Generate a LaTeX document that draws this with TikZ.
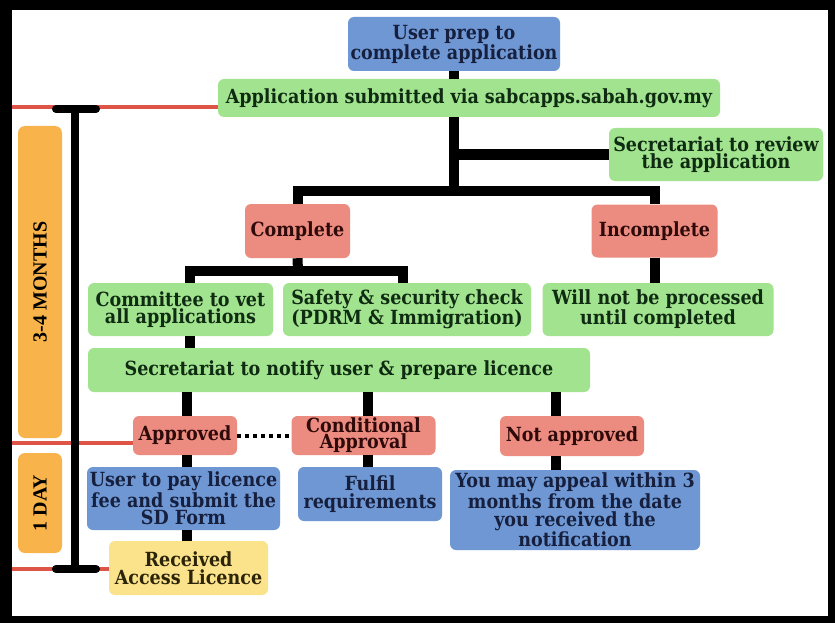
\documentclass[tikz,border=0pt]{standalone}
\usepackage{fontspec}
\setmainfont{DejaVu Serif}[FakeStretch=0.9]
\newfontfamily\sidefont{Liberation Serif}
\definecolor{bluebox}{HTML}{6F97D3}
\definecolor{greenbox}{HTML}{A2E38F}
\definecolor{redbox}{HTML}{EC8B7F}
\definecolor{yellowbox}{HTML}{FBE38C}
\definecolor{orangebar}{HTML}{F8B44A}
\definecolor{brush}{HTML}{DE5548}
\definecolor{bluetext}{HTML}{16203E}
\definecolor{greentext}{HTML}{0F2B12}
\definecolor{redtext}{HTML}{2E0A0A}
\definecolor{yellowtext}{HTML}{2B2408}
\tikzset{
  box/.style={rounded corners=6pt, inner sep=0pt, align=center,
    font=\fontsize{19.5}{17.5}\selectfont\bfseries},
  bluenode/.style={box, fill=bluebox, text=bluetext},
  greennode/.style={box, fill=greenbox, text=greentext},
  rednode/.style={box, fill=redbox, text=redtext},
  yellownode/.style={box, fill=yellowbox, text=yellowtext},
  conn/.style={line width=10pt, black, line join=miter},
  dotline/.style={line width=4pt, black, dash pattern=on 4pt off 4pt},
  brushline/.style={line width=3.5pt, brush},
  timebar/.style={line width=8pt, black},
  timecap/.style={line width=8pt, black, line cap=round},
  sidebar/.style={fill=orangebar, rounded corners=7pt},
  sidetext/.style={rotate=90, font=\sidefont\fontsize{20}{20}\selectfont\bfseries, text=black}
}
\begin{document}
\begin{tikzpicture}[x=1pt,y=-1pt]
\useasboundingbox (0,0) rectangle (835,623);
\fill[black] (0,0) rectangle (835,623);
\fill[white] (12,10) rectangle (828,616);

% side bars
\fill[sidebar] (18,126) rectangle (62,438);
\fill[sidebar] (18,453) rectangle (62,553);
\node[sidetext] (months) at (40,282) {3-4 MONTHS};
\node[sidetext] (oneday) at (40,503) {1 DAY};

% nodes
\node[bluenode, minimum width=212pt, minimum height=54pt] (up) at (454,44) {User prep to\\complete application};
\node[greennode, minimum width=502pt, minimum height=38pt] (app) at (469,98) {Application submitted via sabcapps.sabah.gov.my};
\node[greennode, minimum width=214pt, minimum height=53pt] (rev) at (716,154.5) {Secretariat to review\\the application};
\node[rednode, minimum width=105pt, minimum height=54pt] (comp) at (297.5,231) {Complete};
\node[rednode, minimum width=126pt, minimum height=53pt] (incomp) at (654.5,231) {Incomplete};
\node[greennode, minimum width=185pt, minimum height=53pt] (comm) at (180.5,309.5) {Committee to vet\\all applications};
\node[greennode, minimum width=248pt, minimum height=53pt] (safe) at (407,309.5) {Safety \& security check\\(PDRM \& Immigration)};
\node[greennode, minimum width=231pt, minimum height=53pt] (will) at (658,309.5) {Will not be processed\\until completed};
\node[greennode, minimum width=502pt, minimum height=44pt] (notify) at (339,370) {Secretariat to notify user \& prepare licence};
\node[rednode, minimum width=104pt, minimum height=39pt] (appr) at (185,435.5) {Approved};
\node[rednode, minimum width=144pt, minimum height=39pt, font=\fontsize{19.5}{12.5}\selectfont\bfseries] (cond) at (363.5,435.5) {Conditional\\Approval};
\node[rednode, minimum width=144pt, minimum height=40pt] (notap) at (572,436) {Not approved};
\node[bluenode, minimum width=193pt, minimum height=63pt] (pay) at (183.5,498.5) {User to pay licence\\fee and submit the\\SD Form};
\node[bluenode, minimum width=144pt, minimum height=54pt] (ful) at (370,494) {Fulfil\\requirements};
\node[bluenode, minimum width=250pt, minimum height=80pt, font=\fontsize{19.5}{18.3}\selectfont\bfseries] (appeal) at (575,510) {You may appeal within 3\\months from the date\\you received the\\notification};
\node[yellownode, minimum width=159pt, minimum height=54pt] (recv) at (188.5,568) {Received\\Access Licence};

% junction coordinates
\coordinate (jA) at (454,191);
\coordinate (jB) at (298,271);
\coordinate (cL) at (190,283);
\coordinate (cR) at (403,283);
\coordinate (xN) at (187,0);
\coordinate (xC) at (368,0);
\coordinate (xR) at (556,0);
\coordinate (xM) at (190,0);

% connectors
\draw[conn] (up.south) -- (up.south |- app.north);
\draw[conn] (up.south |- app.south) -- (jA);
\draw[conn] (up.south |- rev.west) -- (rev.west);
\draw[conn] (comp.north) -- (comp.north |- jA) -- (incomp.north |- jA) -- (incomp.north);
\draw[conn] (comp.south) -- (jB);
\draw[conn] (cL) |- (jB) -| (cR);
\draw[conn] (incomp.south) -- (will.north -| incomp.south);
\draw[conn] (xM |- comm.south) -- (xM |- notify.north);
\draw[conn] (xN |- notify.south) -- (xN |- appr.north);
\draw[conn] (xC |- notify.south) -- (xC |- cond.north);
\draw[conn] (xR |- notify.south) -- (xR |- notap.north);
\draw[conn] (xN |- appr.south) -- (xN |- pay.north);
\draw[conn] (xC |- cond.south) -- (xC |- ful.north);
\draw[conn] (xR |- notap.south) -- (xR |- appeal.north);
\draw[conn] (xN |- pay.south) -- (xN |- recv.north);
\draw[dotline] (appr.east) -- (cond.west);

% timeline
\coordinate (tTop) at (75,109);
\coordinate (tBot) at (75,569);
\coordinate (capTL) at (56,109);
\coordinate (capTR) at (96,109);
\coordinate (capBL) at (56,569);
\coordinate (capBR) at (96,569);
\draw[brushline] (12,107) -- (app.west |- 0,107);
\draw[brushline] (12,443) -- (appr.west |- 0,443);
\draw[brushline] (12,569) -- (recv.west |- 0,569);
\draw[timebar] (tTop) -- (tBot);
\draw[timecap] (capTL) -- (capTR);
\draw[timecap] (capBL) -- (capBR);
\end{tikzpicture}
\end{document}
